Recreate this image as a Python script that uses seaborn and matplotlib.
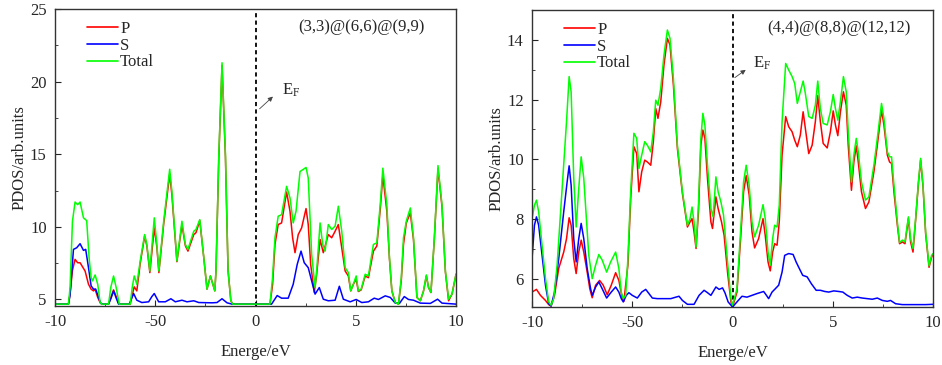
import numpy as np
import pandas as pd
import matplotlib as mpl
mpl.use('Agg')
import matplotlib.pyplot as plt
from matplotlib.ticker import MultipleLocator
import seaborn as sns

# ---- left panel: (3,3)@(6,6)@(9,9) ----
l_p_x = [-10.0, -9.33, -9.25, -9.13, -9.0, -8.87, -8.75, -8.5, -8.33, -8.2, -8.08, -8.0, -7.87, -7.75, -7.67,
         -7.33, -7.2, -7.08, -6.95, -6.8, -6.25, -6.15, -6.05, -5.92, -5.75, -5.53, -5.42, -5.27, -5.05, -4.92,
         -4.82, -4.58, -4.28, -4.17, -3.92, -3.67, -3.5, -3.37, -3.08, -2.97, -2.78, -2.58, -2.42, -2.25, -2.03,
         -1.97, -1.83, -1.67, -1.5, -1.37, -1.23, -1.13,
         0.0, 0.72, 0.85, 0.97, 1.13, 1.3, 1.55, 1.72, 1.85, 1.97, 2.13, 2.3, 2.52, 2.63, 2.75, 2.93, 3.05, 3.22,
         3.38, 3.63, 3.8, 3.97, 4.13, 4.3, 4.47, 4.63, 4.75, 4.88, 5.02, 5.13, 5.27, 5.47, 5.63, 5.88, 6.05,
         6.22, 6.35, 6.55, 6.68, 6.8, 6.97, 7.13, 7.27, 7.38, 7.52, 7.72, 7.88, 8.05, 8.22, 8.38, 8.52, 8.63,
         8.75, 8.92, 9.1, 9.3, 9.47, 9.63, 9.8, 10.0]
l_p_y = [4.68, 4.68, 5.4, 7.0, 7.76, 7.53, 7.53, 6.96, 6.05, 5.71, 5.59, 5.71, 5.14, 4.79, 4.68,
         4.68, 5.2, 5.66, 5.2, 4.68, 4.68, 5.3, 5.87, 5.59, 7.5, 9.36, 8.7, 6.85, 9.93, 8.6,
         6.85, 10.2, 13.63, 12.2, 7.6, 10.16, 8.7, 8.33, 9.47, 9.6, 10.43, 7.88, 5.71, 6.62, 5.59,
         7.0, 14.8, 21.12, 14.8, 7.0, 4.9, 4.68,
         4.68, 4.68, 6.0, 8.79, 10.16, 10.27, 12.4, 11.07, 9.25, 8.22, 9.47, 9.93, 11.26, 10.16, 7.42, 5.48, 6.74, 9.13,
         8.22, 9.47, 9.25, 9.7, 10.16, 8.56, 6.96, 6.62, 5.59, 6.05, 6.39, 5.55, 5.66, 6.62, 6.5, 8.33, 8.68,
         11.2, 13.54, 11.07, 7.8, 5.59, 4.79, 4.68, 6.3, 8.79, 10.27, 10.96, 9.1, 5.14, 4.91, 5.59, 6.62, 5.82,
         5.48, 9.2, 14.0, 11.4, 6.9, 4.91, 5.37, 6.74]

l_s_x = [-10.0, -9.33, -9.25, -9.08, -8.92, -8.75, -8.58, -8.47, -8.33, -8.2, -8.08, -7.97, -7.83, -7.72, -7.6,
         -7.33, -7.2, -7.08, -6.95, -6.83, -6.3, -6.17, -6.08, -5.92, -5.67, -5.33, -5.17, -5.05, -4.83, -4.5,
         -4.22, -4.0, -3.67, -3.42, -3.08, -2.83, -2.17, -1.92, -1.67, -1.42, -1.17,
         0.0, 0.8, 1.08, 1.3, 1.63, 1.88, 2.08, 2.27, 2.43, 2.63, 2.8, 2.97, 3.18, 3.38, 3.63, 3.97, 4.18, 4.38,
         4.72, 5.02, 5.3, 5.63, 5.92, 6.13, 6.47, 6.72, 6.97, 7.18, 7.42, 7.63, 7.88, 8.22, 8.72, 9.08, 9.3, 10.0]
l_s_y = [4.68, 4.68, 5.3, 8.45, 8.56, 8.84, 8.38, 8.45, 7.19, 5.94, 5.71, 5.71, 5.14, 4.73, 4.68,
         4.68, 5.1, 5.59, 5.1, 4.68, 4.68, 5.1, 5.41, 4.95, 4.79, 4.84, 5.2, 5.41, 4.84, 4.84,
         5.05, 4.84, 4.95, 4.84, 4.91, 4.79, 4.77, 4.79, 5.05, 4.77, 4.68,
         4.68, 4.68, 5.27, 5.09, 5.09, 6.05, 7.42, 8.33, 7.53, 7.19, 6.28, 5.37, 5.82, 5.02, 4.91, 4.95, 5.91, 5.02,
         4.84, 5.0, 4.79, 4.84, 5.09, 5.0, 5.25, 5.14, 4.75, 4.73, 5.2, 5.0, 4.95, 4.75, 4.73, 5.02, 4.75, 4.68]

l_t_x = [-10.0, -9.33, -9.25, -9.13, -9.0, -8.87, -8.75, -8.58, -8.42, -8.3, -8.2, -8.13, -8.0, -7.87, -7.75,
         -7.67, -7.33, -7.22, -7.08, -6.95, -6.8, -6.25, -6.15, -6.05, -5.92, -5.75, -5.53, -5.42, -5.27, -5.05,
         -4.92, -4.82, -4.58, -4.28, -4.17, -3.92, -3.67, -3.5, -3.37, -3.08, -2.97, -2.78, -2.58, -2.42, -2.25,
         -2.03, -1.97, -1.83, -1.67, -1.5, -1.37, -1.23, -1.13,
         0.0, 0.72, 0.85, 0.97, 1.13, 1.3, 1.55, 1.72, 1.88, 2.02, 2.22, 2.52, 2.63, 2.8, 2.97, 3.05, 3.22, 3.35,
         3.47, 3.63, 3.8, 3.97, 4.13, 4.3, 4.47, 4.63, 4.75, 4.88, 5.02, 5.13, 5.27, 5.47, 5.63, 5.88, 6.05,
         6.22, 6.35, 6.55, 6.68, 6.8, 6.97, 7.13, 7.27, 7.38, 7.52, 7.72, 7.88, 8.05, 8.22, 8.38, 8.52, 8.63,
         8.75, 8.92, 9.1, 9.3, 9.47, 9.63, 9.8, 10.0]
l_t_y = [4.68, 4.68, 5.82, 10.39, 11.71, 11.53, 11.71, 10.62, 10.43, 7.88, 6.51, 6.28, 6.69, 6.05, 4.79,
         4.68, 4.68, 5.82, 6.62, 5.82, 4.68, 4.68, 5.82, 6.62, 6.05, 7.65, 9.47, 8.79, 6.96, 10.62,
         8.79, 6.96, 10.39, 13.97, 12.44, 7.65, 10.39, 8.79, 8.45, 9.7, 9.82, 10.5, 7.88, 5.71, 6.62,
         5.59, 7.0, 15.0, 21.3, 15.0, 7.0, 4.9, 4.68,
         4.68, 4.68, 6.5, 9.25, 10.73, 10.84, 12.79, 11.99, 10.27, 11.07, 13.81, 14.09, 13.36, 8.11, 5.82, 6.96, 10.27, 8.79,
         8.33, 10.16, 9.82, 10.05, 11.42, 9.7, 7.19, 6.85, 5.59, 6.05, 6.62, 5.59, 5.71, 6.74, 6.62, 8.79, 8.9,
         11.53, 14.04, 11.53, 7.88, 5.59, 4.79, 4.68, 6.5, 9.25, 10.39, 11.3, 9.25, 5.14, 4.91, 5.59, 6.69, 5.82,
         5.48, 9.25, 14.22, 11.53, 6.96, 5.02, 5.37, 6.74]

# ---- right panel: (4,4)@(8,8)@(12,12) ----
r_p_x = [-10.0, -9.78, -9.58, -9.33, -9.17, -9.05, -8.88, -8.67, -8.42, -8.28, -8.15, -8.05, -7.92, -7.8, -7.67,
         -7.55, -7.42, -7.25, -7.12, -7.0, -6.83, -6.63, -6.45, -6.25, -6.05, -5.83, -5.67, -5.5, -5.42, -5.22,
         -5.08, -4.92, -4.78, -4.67, -4.53, -4.38, -4.25, -4.08, -3.95, -3.83, -3.72, -3.58, -3.42, -3.25, -3.12,
         -2.95, -2.75, -2.5, -2.25, -2.12, -2.02, -1.92, -1.82, -1.7, -1.58, -1.48, -1.38, -1.25, -1.08, -1.0,
         -0.83, -0.72, -0.55, -0.42, -0.25, -0.08, 0.0,
         0.22, 0.38, 0.55, 0.68, 0.83, 0.97, 1.1, 1.3, 1.52, 1.63, 1.77, 1.88, 2.0, 2.1, 2.22, 2.33, 2.47, 2.65,
         2.8, 2.97, 3.1, 3.23, 3.38, 3.52, 3.63, 3.8, 3.97, 4.13, 4.25, 4.38, 4.52, 4.72, 4.88, 5.02, 5.13, 5.25,
         5.38, 5.53, 5.67, 5.77, 5.93, 6.05, 6.17, 6.27, 6.43, 6.63, 6.8, 7.05, 7.22, 7.43, 7.55, 7.72, 7.83,
         7.93, 8.05, 8.22, 8.33, 8.47, 8.6, 8.77, 8.88, 9.0, 9.13, 9.27, 9.38, 9.5, 9.63, 9.8, 9.93, 10.0]
r_p_y = [5.55, 5.64, 5.44, 5.27, 5.13, 5.08, 5.44, 6.34, 6.89, 7.34, 8.04, 7.79, 6.67, 6.17, 6.89,
         7.29, 6.89, 6.22, 5.66, 5.36, 5.78, 5.94, 5.78, 5.46, 5.78, 6.2, 5.94, 5.33, 5.24, 6.45,
         8.68, 10.42, 10.19, 8.91, 9.58, 9.97, 9.91, 9.8, 10.59, 11.7, 11.37, 11.93, 13.16, 14.05, 13.83,
         12.49, 10.36, 8.85, 7.73, 7.9, 8.01, 7.57, 7.01, 8.24, 10.47, 10.98, 10.7, 9.36, 7.9, 7.68,
         8.74, 8.35, 7.9, 7.45, 6.22, 5.22, 5.05,
         5.55, 7.12, 8.91, 9.45, 8.8, 7.57, 7.03, 7.34, 8.01, 7.45, 6.56, 6.26, 6.89, 7.17, 7.12, 7.9, 10.14, 11.43,
         11.09, 10.92, 10.64, 10.42, 10.81, 11.59, 11.03, 10.19, 10.47, 11.26, 12.13, 11.26, 10.53, 10.38, 10.92, 11.62, 11.15, 10.79,
         11.59, 12.26, 11.81, 10.47, 8.96, 9.91, 10.45, 9.91, 8.91, 8.35, 8.57, 9.58, 10.47, 11.65, 11.15, 10.14, 9.91,
         9.86, 8.91, 7.79, 7.17, 7.23, 7.17, 8.01, 7.23, 6.89, 7.96, 9.19, 9.97, 9.08, 7.51, 6.38, 6.73, 6.81]

r_s_x = [-10.0, -9.88, -9.78, -9.67, -9.5, -9.33, -9.17, -9.05, -8.88, -8.67, -8.42, -8.25, -8.15, -8.05, -7.92,
         -7.8, -7.67, -7.55, -7.42, -7.25, -7.08, -7.0, -6.83, -6.67, -6.5, -6.28, -6.05, -5.83, -5.67, -5.55,
         -5.45, -5.3, -5.17, -5.0, -4.75, -4.53, -4.33, -4.17, -4.0, -3.75, -3.42, -3.08, -2.83, -2.67, -2.5,
         -2.25, -1.92, -1.67, -1.42, -1.25, -1.08, -0.83, -0.67, -0.5, -0.38, -0.22, 0.0,
         0.22, 0.47, 0.72, 0.97, 1.22, 1.55, 1.67, 1.8, 1.97, 2.13, 2.3, 2.47, 2.6, 2.8, 3.02, 3.17, 3.33, 3.5,
         3.72, 3.93, 4.17, 4.38, 4.6, 4.8, 5.05, 5.3, 5.5, 5.72, 5.97, 6.22, 6.47, 6.72, 6.97, 7.22, 7.47, 7.72,
         7.88, 8.13, 8.47, 8.97, 9.3, 9.63, 10.0]
r_s_y = [6.67, 7.79, 8.07, 7.79, 6.78, 5.78, 5.16, 5.08, 5.55, 6.67, 8.24, 9.24, 9.78, 9.13, 7.34,
         6.56, 7.34, 7.85, 7.34, 6.34, 5.66, 5.44, 5.72, 5.89, 5.66, 5.35, 5.55, 5.72, 5.55, 5.33,
         5.22, 5.44, 5.53, 5.44, 5.35, 5.55, 5.64, 5.5, 5.35, 5.33, 5.33, 5.33, 5.38, 5.41, 5.27,
         5.14, 5.14, 5.44, 5.61, 5.53, 5.44, 5.72, 5.64, 5.69, 5.53, 5.22, 5.05,
         5.22, 5.41, 5.38, 5.44, 5.5, 5.57, 5.46, 5.33, 5.55, 5.66, 5.78, 6.22, 6.78, 6.84, 6.81, 6.56, 6.34, 6.11,
         6.06, 5.83, 5.61, 5.61, 5.57, 5.55, 5.59, 5.57, 5.55, 5.44, 5.35, 5.38, 5.35, 5.33, 5.31, 5.35, 5.27, 5.24,
         5.27, 5.16, 5.13, 5.13, 5.13, 5.13, 5.14]

r_t_x = [-10.0, -9.88, -9.78, -9.67, -9.5, -9.33, -9.17, -9.05, -8.92, -8.75, -8.5, -8.28, -8.15, -8.05, -7.92,
         -7.8, -7.67, -7.55, -7.42, -7.28, -7.17, -7.0, -6.83, -6.67, -6.5, -6.28, -6.08, -5.83, -5.67, -5.55,
         -5.45, -5.33, -5.22, -5.08, -4.92, -4.78, -4.67, -4.53, -4.38, -4.25, -4.08, -3.95, -3.83, -3.72, -3.58,
         -3.42, -3.25, -3.12, -2.95, -2.75, -2.5, -2.25, -2.12, -2.02, -1.92, -1.82, -1.7, -1.58, -1.48, -1.38,
         -1.25, -1.08, -0.97, -0.83, -0.72, -0.58, -0.45, -0.25, -0.08, 0.0,
         0.22, 0.38, 0.55, 0.68, 0.83, 0.97, 1.1, 1.3, 1.52, 1.63, 1.77, 1.88, 2.0, 2.1, 2.22, 2.33, 2.47, 2.65,
         2.8, 2.97, 3.1, 3.23, 3.38, 3.52, 3.63, 3.8, 3.97, 4.13, 4.25, 4.38, 4.52, 4.72, 4.88, 5.02, 5.13, 5.25,
         5.38, 5.53, 5.67, 5.77, 5.93, 6.05, 6.17, 6.27, 6.43, 6.63, 6.8, 7.05, 7.22, 7.43, 7.55, 7.72, 7.83,
         7.93, 8.05, 8.22, 8.33, 8.47, 8.6, 8.77, 8.88, 9.0, 9.13, 9.27, 9.38, 9.5, 9.63, 9.8, 9.93, 10.0]
r_t_y = [8.01, 8.46, 8.63, 8.24, 7.12, 6.0, 5.22, 5.11, 5.33, 6.45, 9.02, 11.26, 12.77, 12.26, 9.36,
         7.73, 9.02, 10.08, 9.36, 7.9, 6.78, 6.0, 6.45, 6.81, 6.62, 6.22, 6.56, 6.89, 6.34, 5.55,
         5.33, 5.44, 6.67, 8.91, 10.87, 10.7, 9.69, 10.14, 10.59, 10.47, 10.25, 10.92, 11.98, 11.81, 12.38,
         13.49, 14.33, 14.05, 12.71, 10.47, 8.91, 7.79, 8.01, 8.4, 7.9, 7.06, 8.46, 10.7, 11.54, 11.15,
         9.8, 8.35, 8.07, 9.41, 8.91, 8.57, 8.13, 6.56, 5.33, 5.11,
         5.66, 7.34, 9.24, 9.8, 9.13, 7.9, 7.4, 7.79, 8.48, 8.01, 6.89, 6.45, 7.34, 7.79, 7.73, 8.46, 11.26, 13.21,
         12.99, 12.77, 12.54, 11.87, 12.26, 12.62, 12.21, 11.43, 11.37, 11.81, 12.62, 11.7, 11.2, 11.15, 11.59, 12.17, 11.7, 11.31,
         11.93, 12.77, 12.26, 10.92, 9.24, 10.14, 10.7, 10.25, 9.24, 8.63, 8.74, 9.8, 10.7, 11.87, 11.37, 10.25, 10.08,
         10.08, 9.13, 7.9, 7.21, 7.29, 7.23, 8.07, 7.34, 7.01, 8.01, 9.24, 10.03, 9.13, 7.57, 6.43, 6.78, 6.84]

orbitals = ['P', 'S', 'Total']
colors = {'P': '#ff0000', 'S': '#0000ff', 'Total': '#00ff00'}
xtick_vals = [-10, -5, 0, 5, 10]
xtick_text = ['-10', '-50', '0', '5', '10']


def make_df(series):
    parts = []
    for name, (xs, ys) in zip(orbitals, series):
        parts.append(pd.DataFrame({'energy': xs, 'pdos': ys, 'orbital': name}))
    return pd.concat(parts, ignore_index=True)


left_df = make_df([(l_p_x, l_p_y), (l_s_x, l_s_y), (l_t_x, l_t_y)])
right_df = make_df([(r_p_x, r_p_y), (r_s_x, r_s_y), (r_t_x, r_t_y)])

sns.set_style('ticks')
plt.rcParams['font.family'] = ['Liberation Serif', 'DejaVu Serif']
plt.rcParams['mathtext.fontset'] = 'custom'
plt.rcParams['mathtext.rm'] = 'Liberation Serif'
plt.rcParams['mathtext.it'] = 'Liberation Serif:italic'
plt.rcParams['font.size'] = 12

fig = plt.figure(figsize=(9.42, 3.65), dpi=100)
ax1 = fig.add_axes([0.0584, 0.1616, 0.4257, 0.8137])
ax2 = fig.add_axes([0.5648, 0.1589, 0.4257, 0.8137])

panels = [
    (ax1, left_df, (4.55, 25), 5, 2.5, '(3,3)@(6,6)@(9,9)', (0.1, 18.0), (0.97, 19.1), (1.3, 19.4)),
    (ax2, right_df, (5.05, 15), 2, 1, '(4,4)@(8,8)@(12,12)', (0.0, 12.68), (0.77, 13.05), (1.0, 13.2)),
]

for ax, df, ylim, ymaj, ymin, label, tail, head, txt in panels:
    sns.lineplot(data=df, x='energy', y='pdos', hue='orbital', hue_order=orbitals,
                 palette=colors, estimator=None, sort=False, lw=1.1, ax=ax)
    ax.axvline(0, color='black', ls=(0, (2.3, 1.8)), lw=1.3, zorder=1)
    ax.set_xlim(-10, 10)
    ax.set_ylim(*ylim)
    ax.set_xticks(xtick_vals)
    ax.set_xticklabels(xtick_text)
    ax.xaxis.set_minor_locator(MultipleLocator(2.5))
    ax.yaxis.set_major_locator(MultipleLocator(ymaj))
    ax.yaxis.set_minor_locator(MultipleLocator(ymin))
    ax.tick_params(which='both', direction='in', labelsize=12, top=False, right=False)
    ax.tick_params(which='major', length=4, pad=6)
    ax.tick_params(which='minor', length=2.5)
    for sp in ax.spines.values():
        sp.set_visible(True)
        sp.set_color('#333333')
        sp.set_linewidth(1.0)
    ax.set_xlabel('Energe/eV', fontsize=12, labelpad=10)
    ax.set_ylabel('PDOS/arb.units', fontsize=12, labelpad=2)
    ax.text(0.765, 0.94, label, transform=ax.transAxes, ha='center', va='center', fontsize=12)
    ax.annotate('', xy=head, xytext=tail,
                arrowprops=dict(arrowstyle='-|>', color='#444444', lw=0.6, mutation_scale=7))
    ax.text(txt[0], txt[1], r'E$_\mathrm{F}$', fontsize=12, ha='left', va='center')
    leg = ax.legend(loc='upper left', bbox_to_anchor=(0.05, 1.0), frameon=False, fontsize=12,
                    handlelength=1.9, handletextpad=0.1, labelspacing=0.05, borderaxespad=0.3)
    for h in leg.get_lines():
        h.set_linewidth(1.2)

fig.savefig('out.png', dpi=100)
